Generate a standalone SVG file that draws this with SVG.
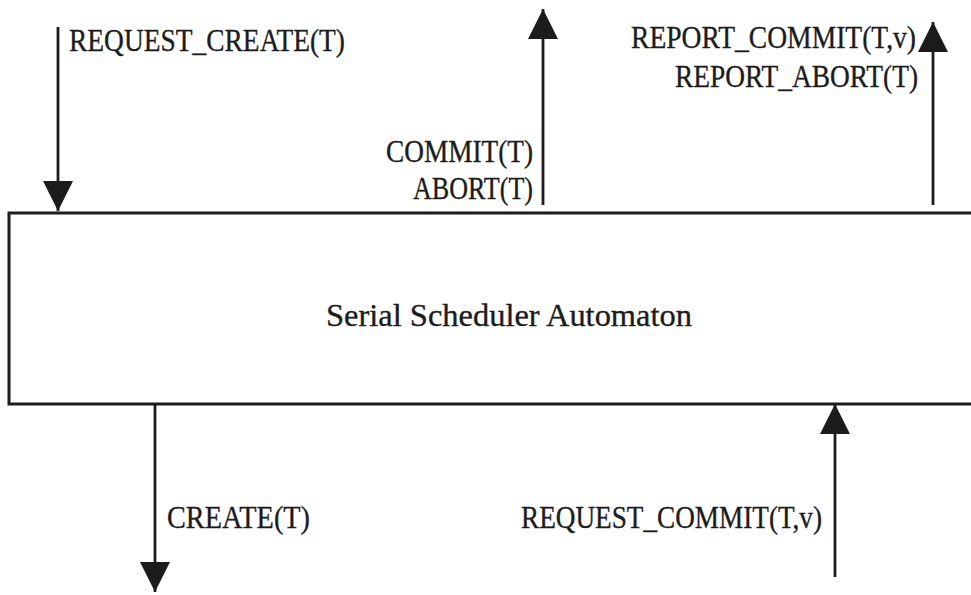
<svg xmlns="http://www.w3.org/2000/svg" width="971" height="595" viewBox="0 0 971 595">
  <style>
    .lbl { font-family: "Liberation Serif", "Times New Roman", serif; font-size: 32px; fill: #1c1c1c; stroke: #1c1c1c; stroke-width: 0.35; }
    .edge { stroke: #1c1c1c; stroke-width: 2.8; fill: none; }
    .box { fill: #ffffff; stroke: #1c1c1c; stroke-width: 3; }
  </style>
  <defs>
    <marker id="head" viewBox="0 0 30 30" refX="30" refY="15" markerWidth="30" markerHeight="30" markerUnits="userSpaceOnUse" orient="auto">
      <path d="M0,0 L30,15 L0,30 Z" fill="#1c1c1c"/>
    </marker>
  </defs>
  <rect width="971" height="595" fill="#ffffff"/>

  <g id="scheduler">
    <rect class="box" x="9" y="213" width="1000" height="191"/>
    <text class="lbl" x="509" y="326" text-anchor="middle" textLength="366" lengthAdjust="spacingAndGlyphs">Serial Scheduler Automaton</text>
  </g>

  <g id="connectors">
    <g id="e-request-create">
      <line class="edge" x1="58" y1="27" x2="58" y2="211" marker-end="url(#head)"/>
      <text class="lbl" x="69" y="51" textLength="276" lengthAdjust="spacingAndGlyphs">REQUEST_CREATE(T)</text>
    </g>
    <g id="e-commit-abort">
      <line class="edge" x1="543" y1="205" x2="543" y2="9" marker-end="url(#head)"/>
      <text class="lbl" x="533" y="162" text-anchor="end" textLength="147" lengthAdjust="spacingAndGlyphs">COMMIT(T)</text>
      <text class="lbl" x="533" y="199" text-anchor="end" textLength="120" lengthAdjust="spacingAndGlyphs">ABORT(T)</text>
    </g>
    <g id="e-report">
      <line class="edge" x1="933" y1="205" x2="933" y2="22" marker-end="url(#head)"/>
      <text class="lbl" x="916" y="48" text-anchor="end" textLength="285" lengthAdjust="spacingAndGlyphs">REPORT_COMMIT(T,v)</text>
      <text class="lbl" x="918" y="87" text-anchor="end" textLength="243" lengthAdjust="spacingAndGlyphs">REPORT_ABORT(T)</text>
    </g>
    <g id="e-create">
      <line class="edge" x1="155" y1="405" x2="155" y2="592" marker-end="url(#head)"/>
      <text class="lbl" x="167" y="528" textLength="143" lengthAdjust="spacingAndGlyphs">CREATE(T)</text>
    </g>
    <g id="e-request-commit">
      <line class="edge" x1="835" y1="577" x2="835" y2="404" marker-end="url(#head)"/>
      <text class="lbl" x="521" y="528" textLength="301" lengthAdjust="spacingAndGlyphs">REQUEST_COMMIT(T,v)</text>
    </g>
  </g>
</svg>
